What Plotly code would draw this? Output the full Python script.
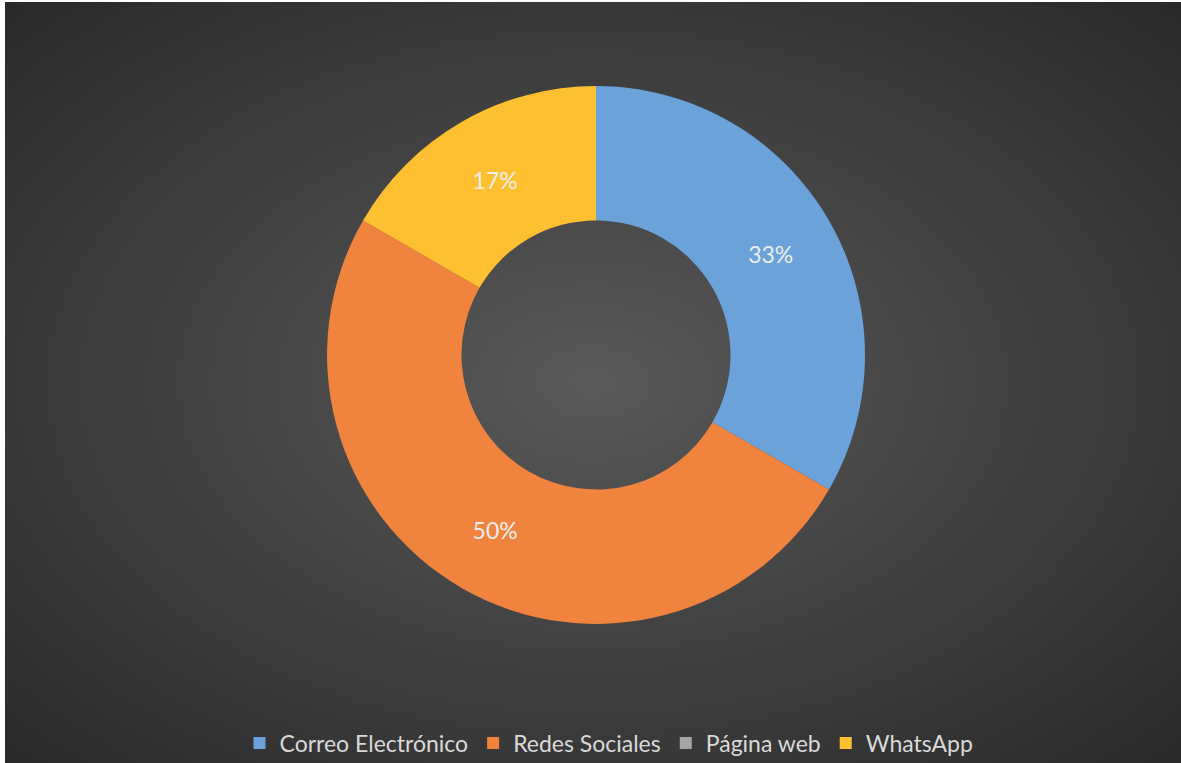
import base64
import plotly.graph_objects as go

# Channels used to reach the audience (response counts)
categories = ["Correo Electrónico", "Redes Sociales", "Página web", "WhatsApp"]
responses = [2, 3, 0, 1]
slice_colors = ["#6AA2D9", "#F0843E", "#A5A5A5", "#FEC030"]

total = sum(responses)
pct_text = [f"{round(v / total * 100)}%" if v else "" for v in responses]

W, H = 1181, 763
ML, MT = 5, 2
PW, PH = W - ML, H - MT

# dark radial backdrop
svg = (
    '<svg xmlns="http://www.w3.org/2000/svg" width="1176" height="761" '
    'viewBox="0 0 1176 761" preserveAspectRatio="none">'
    '<defs><radialGradient id="g" cx="0.5" cy="0.5" r="0.71">'
    '<stop offset="0" stop-color="#595959"/>'
    '<stop offset="1" stop-color="#292929"/>'
    '</radialGradient></defs>'
    '<rect width="1176" height="761" fill="url(#g)"/></svg>'
)
bg_uri = "data:image/svg+xml;base64," + base64.b64encode(svg.encode()).decode()

# ring placement (pixels)
cx, cy, rad = 596, 355, 269

fig = go.Figure(
    go.Pie(
        labels=categories,
        values=responses,
        text=pct_text,
        textinfo="text",
        textposition="inside",
        insidetextorientation="horizontal",
        textfont=dict(family="Lato", size=23, color="#EDEDED"),
        marker=dict(colors=slice_colors, line=dict(width=0)),
        hole=0.5,
        sort=False,
        direction="clockwise",
        rotation=0,
        hoverinfo="label+value+percent",
        domain=dict(
            x=[(cx - rad - ML) / PW, (cx + rad - ML) / PW],
            y=[1 - (cy + rad - MT) / PH, 1 - (cy - rad - MT) / PH],
        ),
    )
)

fig.update_layout(
    width=W,
    height=H,
    margin=dict(l=ML, r=0, t=MT, b=0, autoexpand=False),
    paper_bgcolor="#FFFFFF",
    plot_bgcolor="#3A3A3A",
    images=[
        dict(
            source=bg_uri,
            xref="paper",
            yref="paper",
            x=0,
            y=1,
            sizex=1,
            sizey=1,
            xanchor="left",
            yanchor="top",
            sizing="stretch",
            layer="below",
        )
    ],
    showlegend=True,
    legend=dict(
        orientation="h",
        x=(609 - ML) / PW,
        xanchor="center",
        y=1 - (743 - MT) / PH,
        yanchor="middle",
        font=dict(family="Lato", size=23, color="#D9D9D9"),
        bgcolor="rgba(0,0,0,0)",
        itemclick=False,
        traceorder="normal",
    ),
)

fig.write_html("out.html")
